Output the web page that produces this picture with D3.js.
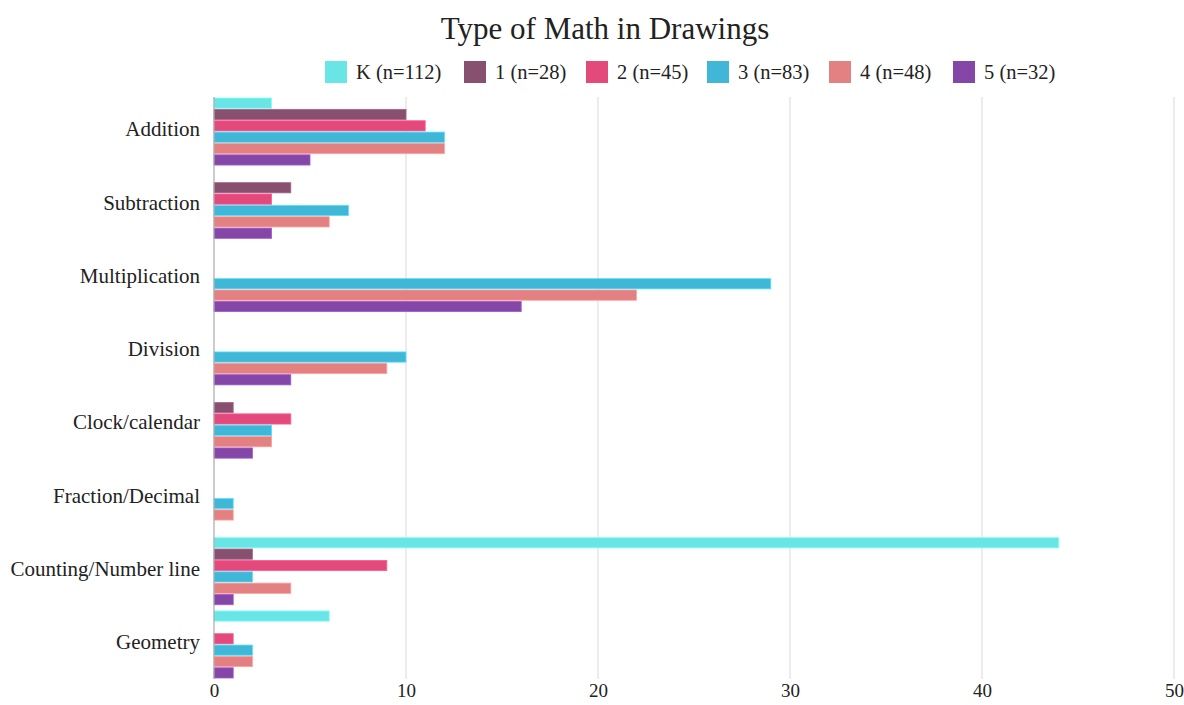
<!DOCTYPE html>
<html>
<head>
<meta charset="utf-8">
<script src="https://cdn.jsdelivr.net/npm/d3@7"></script>
<style>
  html, body { margin: 0; padding: 0; background: #fff; }
  svg { display: block; font-family: "Liberation Serif", "Times New Roman", serif; }
</style>
</head>
<body>
<svg id="chart" width="1184" height="705"></svg>
<script>
// Math topics shown in student drawings, counted per grade
const categories = ["Addition", "Subtraction", "Multiplication", "Division",
  "Clock/calendar", "Fraction/Decimal", "Counting/Number line", "Geometry"];
const seriesNames = ["K (n=112)", "1 (n=28)", "2 (n=45)", "3 (n=83)", "4 (n=48)", "5 (n=32)"];
const seriesColors = ["#6ae5e5", "#88506f", "#e3497b", "#41b7d7", "#e38081", "#8447a7"];
const gradeK = [3, 0, 0, 0, 0, 0, 44, 6];
const grade1 = [10, 4, 0, 0, 1, 0, 2, 0];
const grade2 = [11, 3, 0, 0, 4, 0, 9, 1];
const grade3 = [12, 7, 29, 10, 3, 1, 2, 2];
const grade4 = [12, 6, 22, 9, 3, 1, 4, 2];
const grade5 = [5, 3, 16, 4, 2, 0, 1, 1];
const xTicks = [0, 10, 20, 30, 40, 50];

const seriesValues = [gradeK, grade1, grade2, grade3, grade4, grade5];
const svg = d3.select("#chart");
const margin = { left: 214, right: 10, top: 97, bottom: 26 };
const W = 1184, H = 705;

const x = d3.scaleLinear().domain([0, 50]).range([margin.left, 1174]);
const y = d3.scaleBand().domain(categories).range([98, 678])
  .paddingInner(0.085).paddingOuter(0);
const yInner = d3.scaleBand().domain(d3.range(seriesNames.length))
  .range([0, y.bandwidth()]).paddingInner(0.1).paddingOuter(0);

// title
svg.append("text")
  .attr("x", 605).attr("y", 39)
  .attr("text-anchor", "middle")
  .attr("font-size", 31)
  .attr("fill", "#222")
  .text("Type of Math in Drawings");

// legend
const legendX = [325, 464, 586, 707, 829, 953];
const legend = svg.append("g");
seriesNames.forEach((name, i) => {
  const g = legend.append("g").attr("transform", `translate(${legendX[i]},61)`);
  g.append("rect").attr("width", 22).attr("height", 22).attr("fill", seriesColors[i]);
  g.append("text").attr("x", 31).attr("y", 18)
    .attr("font-size", 20.5).attr("fill", "#222").text(name);
});

// vertical grid lines
svg.append("g").selectAll("line")
  .data(xTicks.filter(d => d > 0))
  .join("line")
  .attr("x1", d => x(d)).attr("x2", d => x(d))
  .attr("y1", margin.top).attr("y2", H - margin.bottom)
  .attr("stroke", "#e6e6e6").attr("stroke-width", 1.5);

// bars
const rows = [];
categories.forEach((c, ci) => {
  seriesValues.forEach((vals, si) => {
    if (vals[ci] > 0) rows.push({ c, si, v: vals[ci] });
  });
});
svg.append("g").selectAll("rect")
  .data(rows)
  .join("rect")
  .attr("x", x(0))
  .attr("y", d => y(d.c) + yInner(d.si))
  .attr("width", d => x(d.v) - x(0))
  .attr("height", yInner.bandwidth())
  .attr("fill", d => seriesColors[d.si])
  .attr("stroke", d => d3.color(seriesColors[d.si]).brighter(0.6))
  .attr("stroke-width", 0.8);

// baseline axis
svg.append("line")
  .attr("x1", x(0)).attr("x2", x(0))
  .attr("y1", margin.top).attr("y2", H - margin.bottom)
  .attr("stroke", "#aaa").attr("stroke-width", 1.2);

// x axis labels
const xAxis = d3.axisBottom(x).tickValues(xTicks).tickSize(0).tickPadding(5);
const xg = svg.append("g").attr("transform", `translate(0,${H - margin.bottom})`).call(xAxis);
xg.select(".domain").remove();
xg.selectAll("text").attr("font-size", 19).attr("fill", "#222")
  .attr("font-family", "Liberation Serif, serif");

// y axis labels
const yAxis = d3.axisLeft(y).tickSize(0).tickPadding(14);
const yg = svg.append("g").attr("transform", `translate(${x(0)},-2)`).call(yAxis);
yg.select(".domain").remove();
yg.selectAll("text").attr("font-size", 21).attr("fill", "#222")
  .attr("font-family", "Liberation Serif, serif");
</script>
</body>
</html>
